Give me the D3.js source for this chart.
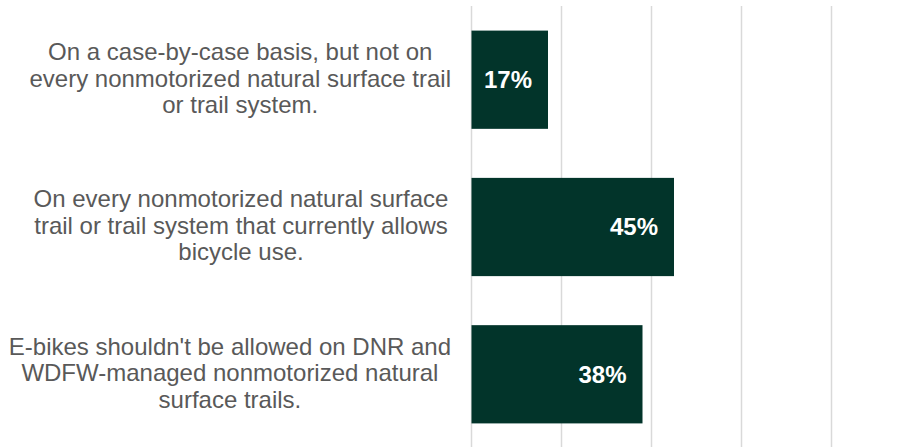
<!DOCTYPE html>
<html>
<head>
<meta charset="utf-8">
<script src="https://cdn.jsdelivr.net/npm/d3@7"></script>
<style>
  html, body { margin: 0; padding: 0; background: #ffffff; }
  svg { display: block; }
</style>
</head>
<body>
<svg id="chart" width="913" height="447"></svg>
<script>
// ---- data ----
const categories = [
  ["On a case-by-case basis, but not on", "every nonmotorized natural surface trail", "or trail system."],
  ["On every nonmotorized natural surface", "trail or trail system that currently allows", "bicycle use."],
  ["E-bikes shouldn't be allowed on DNR and", "WDFW-managed nonmotorized natural", "surface trails."]
];
const values = [17, 45, 38];
const gridTicks = [0, 20, 40, 60, 80, 100];

// ---- layout ----
const W = 913, H = 447;
const svg = d3.select("#chart");

const x = d3.scaleLinear().domain([0, 100]).range([471.5, 921.5]);
const y = d3.scaleBand()
  .domain(d3.range(values.length))
  .range([6, 448])
  .paddingInner(0.333)
  .paddingOuter(0.167);

// gridlines
svg.append("g")
  .selectAll("line")
  .data(gridTicks)
  .join("line")
  .attr("x1", d => x(d))
  .attr("x2", d => x(d))
  .attr("y1", 6)
  .attr("y2", H)
  .attr("stroke", "#d9d9d9")
  .attr("stroke-width", 1.5);

// bars
svg.append("g")
  .selectAll("rect")
  .data(values)
  .join("rect")
  .attr("x", x(0))
  .attr("y", (d, i) => y(i))
  .attr("width", d => x(d) - x(0))
  .attr("height", y.bandwidth())
  .attr("fill", "#02342a");

// value labels
svg.append("g")
  .selectAll("text")
  .data(values)
  .join("text")
  .attr("x", d => x(d) - 16)
  .attr("y", (d, i) => y(i) + y.bandwidth() / 2)
  .attr("dy", "0.35em")
  .attr("text-anchor", "end")
  .attr("font-family", "Liberation Sans, Arial, sans-serif")
  .attr("font-weight", "bold")
  .attr("font-size", 24)
  .attr("fill", "#ffffff")
  .text(d => d + "%");

// category labels (centered, kept left of the bar area)
const lineH = 26.5;
const labelCenter = 241, labelRightLimit = 451;
const catG = svg.append("g");
categories.forEach((lines, i) => {
  const cy = y(i) + y.bandwidth() / 2 - 1.5;
  const t = catG.append("text")
    .attr("text-anchor", "middle")
    .attr("font-family", "Liberation Sans, Arial, sans-serif")
    .attr("font-size", 24)
    .attr("fill", "#595959");
  const spans = lines.map((ln, j) =>
    t.append("tspan")
      .attr("x", labelCenter)
      .attr("y", cy + (j - (lines.length - 1) / 2) * lineH)
      .attr("dy", "0.35em")
      .text(ln));
  const maxW = d3.max(spans, s => s.node().getComputedTextLength());
  const shift = Math.min(0, labelRightLimit - (labelCenter + maxW / 2));
  spans.forEach(s => s.attr("x", labelCenter + shift));
});
</script>
</body>
</html>
